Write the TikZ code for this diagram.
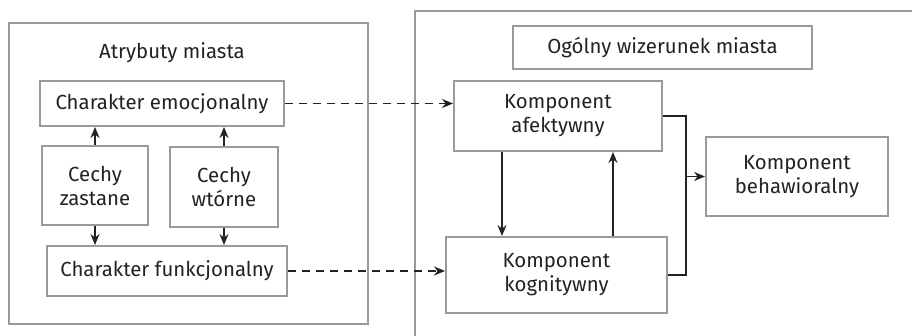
\documentclass[tikz,border=0pt]{standalone}
\usepackage{fontspec}
\setmainfont{Fira Sans}
\usetikzlibrary{arrows.meta,calc}
\definecolor{boxgray}{HTML}{9A9A9A}
\definecolor{ink}{HTML}{222222}
\begin{document}
\begin{tikzpicture}[x=0.5pt,y=-0.5pt,
  font=\fontsize{10.2}{12}\selectfont, text=ink,
  frame/.style={draw=boxgray,line width=1pt},
  box/.style={draw=boxgray,line width=1pt,align=center,inner sep=0pt},
  arr/.style={draw=ink,line width=0.75pt,-{Stealth[length=5.5pt,width=4.5pt]}},
  dasharr/.style={arr,dash pattern=on 4pt off 3pt}]
\useasboundingbox (0,0) rectangle (912,336);
\begin{scope}
\clip (0,0) rectangle (912,336);
\draw[frame] (9,23) rectangle (368,324);
\draw[frame] (415,11) rectangle (930,350);
\end{scope}
\node (title) at (172,53) {Atrybuty miasta};
\node[box,minimum width=122pt,minimum height=22.5pt] (emoc) at (162,103.5) {Charakter emocjonalny};
\node[box,minimum width=53pt,minimum height=39.5pt] (zast) at (95,185.5) {Cechy\\zastane};
\node[box,minimum width=54pt,minimum height=40pt] (wtor) at (224,187) {Cechy\\wtórne};
\node[box,minimum width=120pt,minimum height=25pt] (funk) at (167,271) {Charakter funkcjonalny};
\node[box,minimum width=149.5pt,minimum height=21.5pt] (ogol) at (662.5,47.5) {Ogólny wizerunek miasta};
\node[box,minimum width=104pt,minimum height=35pt] (afek) at (558,116) {Komponent\\afektywny};
\node[box,minimum width=110.5pt,minimum height=38pt] (kogn) at (556.5,275) {Komponent\\kognitywny};
\node[box,minimum width=91pt,minimum height=39.5pt] (beha) at (797,176.5) {Komponent\\behawioralny};
\coordinate (j) at (686,0);
\draw[arr] (zast.north) -- (zast.north |- emoc.south);
\draw[arr] (wtor.north) -- (wtor.north |- emoc.south);
\draw[arr] (zast.south) -- (zast.south |- funk.north);
\draw[arr] (wtor.south) -- (wtor.south |- funk.north);
\draw[dasharr] (emoc.east) -- (emoc.east -| afek.west);
\draw[dasharr] (funk.east) -- (funk.east -| kogn.west);
\draw[arr] ([xshift=-28pt]afek.south) -- ([xshift=-28pt]afek.south |- kogn.north);
\draw[arr] ([xshift=27.5pt]afek.south |- kogn.north) -- ([xshift=27.5pt]afek.south);
\draw[draw=ink,line width=0.75pt] (afek.east) -| (j |- kogn.east) -- (kogn.east);
\draw[arr] (j |- beha.west) -- (beha.west);
\end{tikzpicture}
\end{document}
